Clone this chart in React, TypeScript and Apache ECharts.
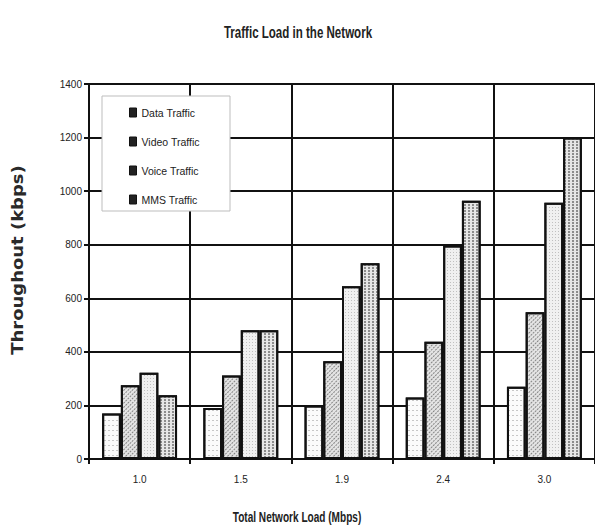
import React, { useEffect, useRef } from "react";
import * as echarts from "echarts";

const categories = ["1.0", "1.5", "1.9", "2.4", "3.0"];
const seriesNames = ["Data Traffic", "Video Traffic", "Voice Traffic", "MMS Traffic"];
const dataTraffic = [170, 190, 200, 230, 270];
const videoTraffic = [275, 312, 365, 438, 548];
const voiceTraffic = [322, 481, 645, 797, 957];
const mmsTraffic = [238, 481, 731, 964, 1200];
const yTicks = { min: 0, max: 1400, interval: 200 };

const SANS = "'Liberation Sans', Arial, sans-serif";

export default function App() {
  const ref = useRef<HTMLDivElement>(null);
  useEffect(() => {
    if (!ref.current) return;
    const chart = echarts.init(ref.current, null, { renderer: "svg" });
    const decals = [
      { symbol: "rect", symbolSize: 1, color: "rgba(120,120,120,0.4)", dashArrayX: [2, 2], dashArrayY: [1, 4] },
      { symbol: "rect", symbolSize: 1, color: "rgba(70,70,70,0.6)", dashArrayX: [2, 1], dashArrayY: [1, 2], rotation: -Math.PI / 4 },
      { symbol: "rect", symbolSize: 1, color: "rgba(120,120,120,0.4)", dashArrayX: [1, 2], dashArrayY: [1, 2] },
      { symbol: "rect", symbolSize: 1, color: "rgba(80,80,80,0.6)", dashArrayX: [2, 2], dashArrayY: [2, 1] },
    ];
    const fills = ["#fbfbfb", "#e4e4e4", "#f0f0f0", "#e6e6e6"];
    const values = [dataTraffic, videoTraffic, voiceTraffic, mmsTraffic];
    chart.setOption({
      animation: false,
      backgroundColor: "#ffffff",
      legend: {
        orient: "vertical",
        left: 129,
        top: 107,
        padding: 0,
        itemWidth: 7,
        itemHeight: 9,
        itemGap: 18,
        icon: "rect",
        z: 20,
        textStyle: { fontFamily: SANS, fontSize: 10.5, color: "#222", lineHeight: 10 },
        data: seriesNames.map((n) => ({
          name: n,
          itemStyle: { color: "#222", borderColor: "#111", borderWidth: 1, decal: "none" },
        })),
      },
      graphic: [
        {
          type: "rect",
          z: 10,
          shape: { x: 102, y: 96, width: 128, height: 115 },
          style: { fill: "#ffffff", stroke: "#bdbdbd", lineWidth: 1 },
        },
        {
          type: "text",
          z: 10,
          x: 298,
          y: 32,
          scaleX: 0.68,
          style: {
            text: "Traffic Load in the Network",
            fontFamily: SANS,
            fontWeight: "bold",
            fontSize: 17,
            fill: "#222",
            align: "center",
            verticalAlign: "middle",
          },
        },
        {
          type: "text",
          z: 10,
          x: 297,
          y: 517,
          scaleX: 0.72,
          style: {
            text: "Total Network Load (Mbps)",
            fontFamily: SANS,
            fontWeight: "bold",
            fontSize: 14,
            fill: "#222",
            align: "center",
            verticalAlign: "middle",
          },
        },
        {
          type: "text",
          z: 10,
          x: 18,
          y: 260,
          rotation: Math.PI / 2,
          scaleX: 1.2,
          style: {
            text: "Throughout (kbps)",
            fontFamily: "'DejaVu Sans', sans-serif",
            fontWeight: "bold",
            fontSize: 15,
            fill: "#2a2a2a",
            align: "center",
            verticalAlign: "middle",
          },
        },
      ],
      grid: { left: 89, top: 84, bottom: 68, right: -10, containLabel: false },
      xAxis: {
        type: "category",
        data: categories,
        axisLine: { lineStyle: { color: "#111", width: 2 } },
        axisTick: { show: true, length: 5, lineStyle: { color: "#111", width: 2 } },
        axisLabel: { fontFamily: SANS, fontSize: 10, color: "#222", margin: 15 },
        splitLine: { show: true, lineStyle: { color: "#111", width: 2 } },
      },
      yAxis: {
        type: "value",
        min: yTicks.min,
        max: yTicks.max,
        interval: yTicks.interval,
        axisLine: { show: true, lineStyle: { color: "#111", width: 2 } },
        axisTick: { show: true, length: 5, lineStyle: { color: "#111", width: 2 } },
        axisLabel: { fontFamily: SANS, fontSize: 10, color: "#222", margin: 7, formatter: (v: number) => String(v) },
        splitLine: { show: true, lineStyle: { color: "#111", width: 2 } },
      },
      series: seriesNames.map((n, i) => ({
        name: n,
        type: "bar",
        data: values[i],
        barGap: "0%",
        barCategoryGap: "26%",
        itemStyle: { color: fills[i], borderColor: "#111", borderWidth: 2, decal: decals[i] },
      })),
    });
    return () => chart.dispose();
  }, []);
  return (
    <div
      ref={ref}
      style={{ position: "fixed", left: 0, top: 0, width: 595, height: 527 }}
    />
  );
}
